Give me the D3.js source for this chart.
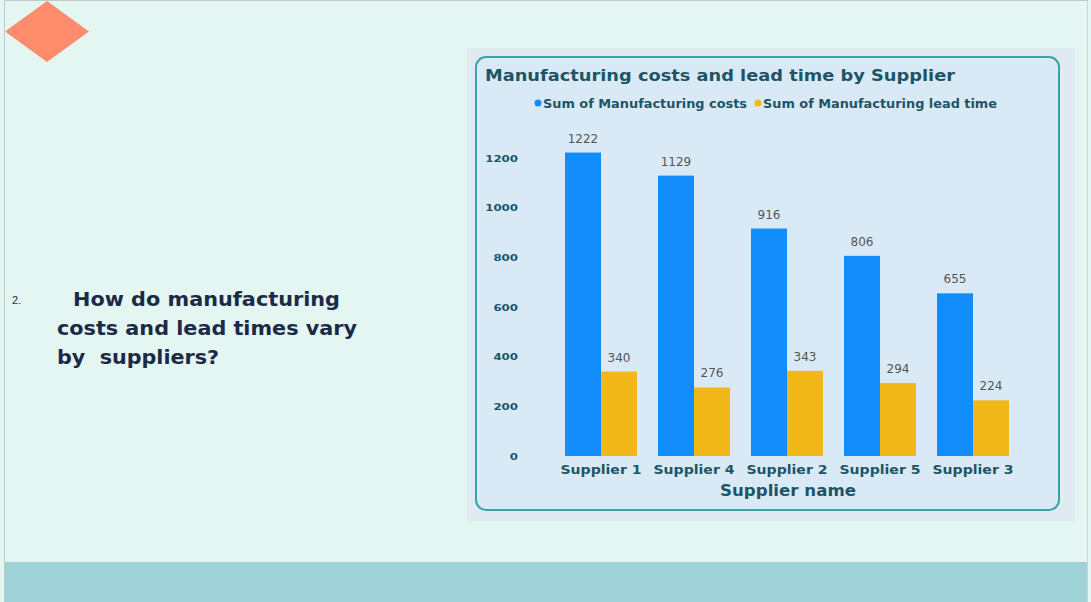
<!DOCTYPE html>
<html><head><meta charset="utf-8">
<script src="https://cdn.jsdelivr.net/npm/d3@7"></script>
<style>html,body{margin:0;padding:0;background:#e3f6f2;overflow:hidden}</style>
</head><body>
<svg id="c" width="1091" height="602"></svg>
<script>
const suppliers = ["Supplier 1","Supplier 4","Supplier 2","Supplier 5","Supplier 3"];
const manufacturingCosts = [1222,1129,916,806,655];
const leadTimes = [340,276,343,294,224];
const seriesNames = ["Sum of Manufacturing costs","Sum of Manufacturing lead time"];
const yTicks = [0,200,400,600,800,1000,1200];

const svg = d3.select("#c");
const F = "DejaVu Sans, Verdana, sans-serif";
// page frame
svg.append("rect").attr("x",0).attr("y",0).attr("width",1091).attr("height",602).attr("fill","#e3f6f2");
svg.append("rect").attr("x",4).attr("y",562).attr("width",1083).attr("height",40).attr("fill","#a0d3d8");
svg.append("line").attr("x1",4.5).attr("x2",4.5).attr("y1",0).attr("y2",602).attr("stroke","#c4c8c8");
svg.append("line").attr("x1",1087.5).attr("x2",1087.5).attr("y1",0).attr("y2",602).attr("stroke","#d0d4d4");
svg.append("line").attr("x1",4).attr("x2",1088).attr("y1",0.5).attr("y2",0.5).attr("stroke","#c4c8c8");
// diamond
svg.append("path").attr("d","M47,1 L89,31.5 L47,62 L5,31.5 Z").attr("fill","#ff8c6c");

// question text
svg.append("text").attr("x",12).attr("y",304).attr("font-family","Liberation Sans, Arial, sans-serif").attr("font-size",11).attr("fill","#1a2a44").text("2.");
const q = [["How do manufacturing",73,306,267],["costs and lead times vary",57,335,300],["by  suppliers?",57,364,162]];
q.forEach(d=>svg.append("text").attr("x",d[1]).attr("y",d[2]).attr("font-family",F).attr("font-weight","bold").attr("font-size",20).attr("fill","#1b2a45").attr("xml:space","preserve").attr("textLength",d[3]).attr("lengthAdjust","spacingAndGlyphs").text(d[0]));

// chart panel
svg.append("rect").attr("x",467).attr("y",48).attr("width",608).attr("height",473).attr("fill","#dfebf0");
svg.append("rect").attr("x",476).attr("y",57).attr("width",583).attr("height",453).attr("rx",10).attr("fill","#d9eaf6").attr("stroke","#3ba2aa").attr("stroke-width",2);

const tc = "#1d5566";
svg.append("text").attr("x",485).attr("y",81).attr("font-family",F).attr("font-weight","bold").attr("font-size",16).attr("fill",tc).attr("textLength",470).attr("lengthAdjust","spacingAndGlyphs").text("Manufacturing costs and lead time by Supplier");

const colors = ["#138cfc","#f2b817"];
// legend
const leg = [[538,seriesNames[0],204],[758,seriesNames[1],234]];
leg.forEach((d,i)=>{
  svg.append("circle").attr("cx",d[0]).attr("cy",103).attr("r",3.5).attr("fill",colors[i]);
  svg.append("text").attr("x",d[0]+5).attr("y",107.5).attr("font-family",F).attr("font-weight","bold").attr("font-size",11.5).attr("fill",tc).attr("textLength",d[2]).attr("lengthAdjust","spacingAndGlyphs").text(d[1]);
});

const y = d3.scaleLinear().domain([0,1200]).range([456,158]);
const x = d3.scaleBand().domain(suppliers).range([554.5,1019.5]).paddingInner(21/93).paddingOuter(21/186);
const xs = d3.scaleBand().domain([0,1]).range([0,x.bandwidth()]);

const yAxis = d3.axisLeft(y).tickValues(yTicks).tickFormat(d3.format("d")).tickSize(0).tickPadding(0);
const ga = svg.append("g").attr("transform","translate(518,0)").call(yAxis);
ga.select(".domain").remove();
ga.selectAll("text").attr("font-family",F).attr("font-weight","bold").attr("font-size",9.5).attr("fill",tc).attr("dy","0.32em")
  .attr("textLength",d=>String(d).length*8.2).attr("lengthAdjust","spacingAndGlyphs");

const xAxis = d3.axisBottom(x).tickSize(0).tickPadding(0);
const gx = svg.append("g").attr("transform","translate(0,470)").call(xAxis);
gx.select(".domain").remove();
gx.selectAll("text").attr("font-family",F).attr("font-weight","bold").attr("font-size",12.5).attr("fill",tc).attr("dy","0.32em").attr("textLength",81).attr("lengthAdjust","spacingAndGlyphs");

svg.append("text").attr("x",788).attr("y",496).attr("text-anchor","middle").attr("font-family",F).attr("font-weight","bold").attr("font-size",15.5).attr("fill",tc).attr("textLength",136).attr("lengthAdjust","spacingAndGlyphs").text("Supplier name");

const series = [manufacturingCosts, leadTimes];
series.forEach((vals,si)=>{
  const g = svg.append("g");
  g.selectAll("rect").data(suppliers).join("rect")
    .attr("x",(d)=>x(d)+xs(si)).attr("width",xs.bandwidth())
    .attr("y",(d,i)=>y(vals[i])).attr("height",(d,i)=>y(0)-y(vals[i]))
    .attr("fill",colors[si]);
  g.selectAll("text").data(suppliers).join("text")
    .attr("x",(d)=>x(d)+xs(si)+xs.bandwidth()/2).attr("y",(d,i)=>y(vals[i])-10)
    .attr("text-anchor","middle").attr("font-family",F).attr("font-size",12).attr("fill","#555")
    .text((d,i)=>vals[i]);
});
</script>
</body></html>
